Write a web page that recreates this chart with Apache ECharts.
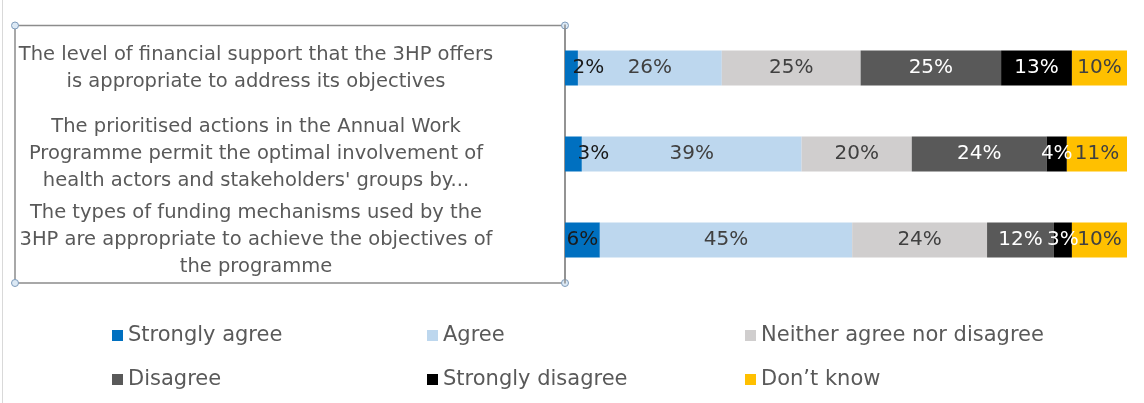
<!DOCTYPE html>
<html>
<head>
<meta charset="utf-8">
<script src="https://cdn.jsdelivr.net/npm/echarts@6/dist/echarts.min.js"></script>
<style>
  html, body { margin: 0; padding: 0; background: #fff; }
  #chart { width: 1144px; height: 403px; }
</style>
</head>
<body>
<div id="chart"></div>
<script>
/*######## 数据 ########*/
var categories = [
  "The level of financial support that the 3HP offers\nis appropriate to address its objectives",
  "The prioritised actions in the Annual Work\nProgramme permit the optimal involvement of\nhealth actors and stakeholders' groups by...",
  "The types of funding mechanisms used by the\n3HP are appropriate to achieve the objectives of\nthe programme"
];
var seriesNames = ["Strongly agree", "Agree", "Neither agree nor disagree", "Disagree", "Strongly disagree", "Don\u2019t know"];
// share (%) per statement
var stronglyAgree = [2.3, 3.0, 6.2];
var agree = [25.6, 39.1, 44.9];
var neither = [24.7, 19.6, 24.0];
var disagree = [25.0, 24.0, 11.9];
var stronglyDisagree = [12.6, 3.6, 3.2];
var dontKnow = [9.8, 10.7, 9.8];

var values = [stronglyAgree, agree, neither, disagree, stronglyDisagree, dontKnow];
var colors = ["#0070C0", "#BDD7EE", "#D0CECE", "#595959", "#000000", "#FFC000"];
var labelColors = ["#1a1a1a", "#404040", "#404040", "#ffffff", "#ffffff", "#404040"];
// 小数值标签被推到轴线右边 (只对第一个系列)
var firstLabelShift = [17, 20, 0];
// 图例位置 (列, 行)
var legendPos = [[107, 320], [422, 320], [740, 320], [107, 364], [422, 364], [740, 364]];

var dom = document.getElementById("chart");
var myChart = echarts.init(dom);

var series = [];
var legends = [];
for (var i = 0; i < seriesNames.length; i++) {
  var items = [];
  for (var j = 0; j < values[i].length; j++) {
    var it = { value: values[i][j] };
    if (i === 0) {
      it.label = { offset: [firstLabelShift[j], 0] };
    }
    items.push(it);
  }
  series.push({
    name: seriesNames[i],
    type: "bar",
    stack: "total",
    barWidth: 35,
    itemStyle: { color: colors[i] },
    label: {
      show: true,
      position: "inside",
      color: labelColors[i],
      fontSize: 20,
      fontFamily: "DejaVu Sans",
      formatter: function (p) {
        return Math.round(p.value) + "%";
      }
    },
    data: items
  });
  legends.push({
    data: [seriesNames[i]],
    left: legendPos[i][0],
    top: legendPos[i][1],
    icon: "rect",
    itemWidth: 11,
    itemHeight: 11,
    selectedMode: false,
    textStyle: { color: "#595959", fontSize: 21, fontFamily: "DejaVu Sans" }
  });
}

var option = {
  animation: false,
  backgroundColor: "#ffffff",
  grid: { left: 565, right: 17, top: 25, bottom: 120 },
  xAxis: {
    type: "value",
    min: 0,
    max: 100,
    show: false
  },
  yAxis: {
    type: "category",
    inverse: true,
    data: categories,
    axisLine: { show: true, lineStyle: { color: "#8c8c8c", width: 1.5 } },
    axisTick: { show: false },
    axisLabel: {
      align: "center",
      margin: 309,
      color: "#595959",
      fontSize: 19.5,
      lineHeight: 27,
      fontFamily: "DejaVu Sans"
    }
  },
  legend: legends,
  series: series,
  graphic: [
    // 外框左边线
    { type: "line", shape: { x1: 2.5, y1: 0, x2: 2.5, y2: 403 }, style: { stroke: "#d9d9d9", lineWidth: 1 } },
    // 文本框
    { type: "rect", shape: { x: 15, y: 25.5, width: 550, height: 257.5 }, style: { fill: "none", stroke: "#8c8c8c", lineWidth: 1.5 } },
    { type: "circle", shape: { cx: 15, cy: 25.5, r: 3.5 }, style: { fill: "#dce9f5", stroke: "#7f9cbb", lineWidth: 1 } },
    { type: "circle", shape: { cx: 565, cy: 25.5, r: 3.5 }, style: { fill: "#dce9f5", stroke: "#7f9cbb", lineWidth: 1 } },
    { type: "circle", shape: { cx: 15, cy: 283, r: 3.5 }, style: { fill: "#dce9f5", stroke: "#7f9cbb", lineWidth: 1 } },
    { type: "circle", shape: { cx: 565, cy: 283, r: 3.5 }, style: { fill: "#dce9f5", stroke: "#7f9cbb", lineWidth: 1 } }
  ]
};
if (option && typeof option === "object") {
  myChart.setOption(option, true);
}
</script>
</body>
</html>
